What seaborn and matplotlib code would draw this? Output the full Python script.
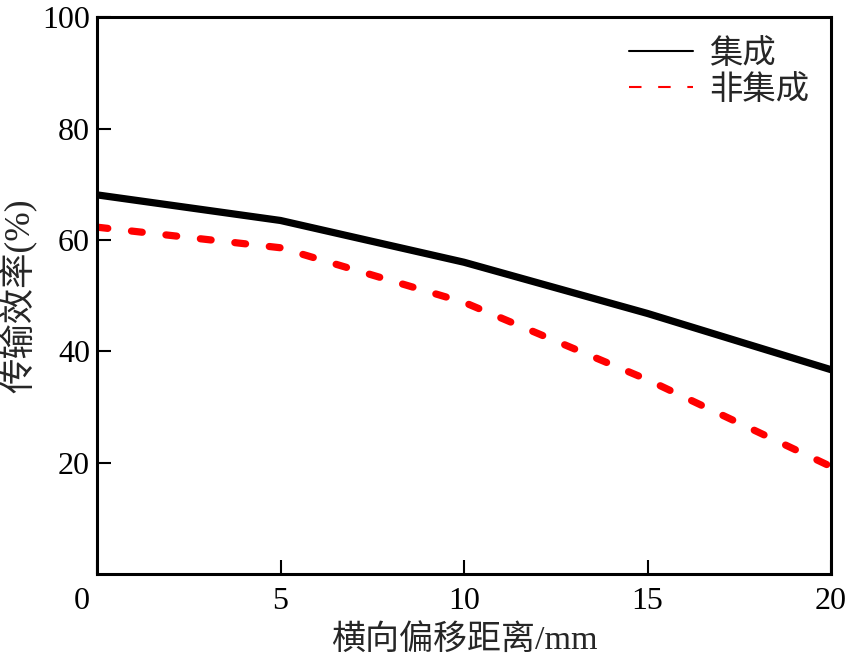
import seaborn as sns
import matplotlib.pyplot as plt
import matplotlib.transforms as mtransforms

# lateral offset (mm) vs transfer efficiency (%)
offset = [0, 5, 10, 15, 20]
eff_integrated = [68.1, 63.5, 56.0, 46.8, 36.7]
eff_separate = [62.3, 58.6, 48.8, 34.9, 19.3]
labels = ["集成", "非集成"]
x_ticks = [0, 5, 10, 15, 20]
y_ticks = [20, 40, 60, 80, 100]

sns.set_style("ticks")
plt.rcParams["font.family"] = ["Liberation Serif", "Noto Sans CJK SC"]
plt.rcParams["axes.unicode_minus"] = False

fig = plt.figure(figsize=(8.51, 6.64), dpi=100)
ax = fig.add_axes([0.114, 0.1355, 0.8625, 0.8385])

sns.lineplot(x=offset, y=eff_integrated, color="black", linewidth=5.2, label=labels[0], ax=ax)
sns.lineplot(x=offset, y=eff_separate, color="red", linewidth=5.2, label=labels[1], ax=ax)

red = ax.lines[1]
red.set_dashes((1.5, 3.3))
red.set_dash_capstyle("round")

ax.set_xlim(0, 20)
ax.set_ylim(0, 100)
ax.set_xticks(x_ticks)
ax.set_yticks(y_ticks)
ax.tick_params(direction="in", length=10, width=1.5, labelsize=23, colors="black")
ax.tick_params(axis="x", pad=9)
ax.tick_params(axis="y", pad=5)
for s in ax.spines.values():
    s.set_visible(True)
    s.set_linewidth(2.2)
    s.set_color("black")

# the "0" label sits a little left of the origin in the original
lbl0 = ax.get_xticklabels()[0]
lbl0.set_transform(lbl0.get_transform() + mtransforms.ScaledTranslation(-0.15, 0, fig.dpi_scale_trans))

ax.set_xlabel("横向偏移距离/mm", fontsize=24.5, labelpad=6)
ax.set_ylabel("传输效率(%)", fontsize=25.5, labelpad=3)

leg = ax.legend(loc="upper right", frameon=False, fontsize=24, handlelength=1.9,
                handletextpad=0.5, labelspacing=0.15, borderaxespad=0.25)
for h in leg.get_lines():
    h.set_linewidth(1.5)
leg.get_lines()[1].set_dashes((6, 8))
leg.get_lines()[1].set_dash_capstyle("butt")

fig.savefig("out.png", dpi=100)
